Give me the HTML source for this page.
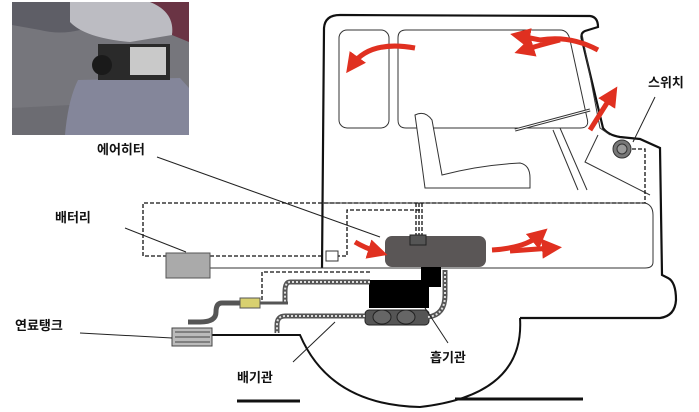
<!DOCTYPE html>
<html><head><meta charset="utf-8"><style>
html,body{margin:0;padding:0;background:#fff;}
svg{display:block;}
text{font-family:"Liberation Sans","Noto Sans CJK KR",sans-serif;font-size:13px;font-weight:bold;fill:#111;}
</style></head><body>
<svg width="699" height="412" viewBox="0 0 699 412" xmlns="http://www.w3.org/2000/svg">
<defs>
<marker id="ah" markerWidth="4" markerHeight="4" refX="2" refY="2" orient="auto" markerUnits="strokeWidth"><path d="M0,0 L4,2 L0,4 Z" fill="#e03020"/></marker>
</defs>
<!-- photo -->
<rect x="12" y="2" width="177" height="133" fill="#76767c"/>
<path d="M12,2 L80,2 L80,30 Q60,35 40,30 L12,25Z" fill="#5e5e66"/>
<path d="M70,2 L150,2 Q178,10 172,35 L130,42 Q85,38 70,22 Z" fill="#bcbcc2"/>
<path d="M150,2 L189,2 L189,42 L172,35 Q175,12 150,2Z" fill="#6a3444"/>
<path d="M12,108 L70,105 L65,135 L12,135Z" fill="#6c6c72"/>
<path d="M78,80 L180,78 L189,88 L189,135 L65,135 Q68,100 78,80Z" fill="#84869a"/>
<rect x="98" y="44" width="72" height="36" fill="#2a2a2a"/>
<rect x="130" y="47" width="36" height="28" fill="#c9c9c9"/>
<circle cx="102" cy="65" r="10" fill="#1a1a1a"/>
<text x="97" y="154">에어히터</text>
<line x1="157" y1="157" x2="380" y2="237" stroke="#222" stroke-width="1"/>
<!-- cab outline -->
<path d="M322,268 L324,28 Q325,15 340,15 L590,16 Q598,17 598,27 L585,31 Q580,33 582,40 L603,128 Q608,135 620,137 L640,139 L660,148 L662,275 L668,278 Q676,282 676,300 Q675,316 660,318 L520,318" fill="none" stroke="#111" stroke-width="2.2"/>
<path d="M520,318 Q525,395 420,407 Q330,405 300,335 L180,335" fill="none" stroke="#111" stroke-width="2"/>
<line x1="237" y1="401" x2="300" y2="401" stroke="#111" stroke-width="3"/>
<line x1="455" y1="399" x2="583" y2="399" stroke="#111" stroke-width="3"/>
<!-- windows -->
<rect x="339" y="30" width="50" height="98" rx="8" fill="none" stroke="#333" stroke-width="1"/>
<path d="M406,30 L560,30 Q568,30 570,40 L587,118 Q590,128 580,128 L406,128 Q398,128 398,120 L398,38 Q398,30 406,30Z" fill="none" stroke="#333" stroke-width="1"/>
<path d="M582,34 L600,128 L610,135" fill="none" stroke="#333" stroke-width="1"/>
<!-- seat -->
<path d="M415,115 Q425,110 432,120 L442,175 Q480,165 520,163 Q530,165 530,178 L530,188 L425,188 Q420,150 415,115Z" fill="#fff" stroke="#333" stroke-width="1"/>
<!-- steering -->
<line x1="515" y1="130" x2="590" y2="110" stroke="#333" stroke-width="3"/>
<line x1="515" y1="130" x2="590" y2="110" stroke="#fff" stroke-width="1"/>
<path d="M553,130 L578,190 M560,128 L587,190" stroke="#333" stroke-width="1"/>
<!-- dash panel -->
<path d="M598,135 L585,162 L650,195" fill="none" stroke="#333" stroke-width="1"/>
<!-- interior lower box -->
<path d="M322,203 L645,203 Q653,205 653,215 L653,262 Q653,268 645,268 L210,268" fill="none" stroke="#333" stroke-width="1"/>
<!-- switch -->
<circle cx="622" cy="149" r="9" fill="#777" stroke="#333"/>
<circle cx="622" cy="149" r="5" fill="#999" stroke="#333"/>
<text x="648" y="87">스위치</text>
<line x1="655" y1="97" x2="633" y2="142" stroke="#222"/>
<!-- dashed wires -->
<g fill="none" stroke="#111" stroke-width="1.3" stroke-dasharray="4,2">
<path d="M632,149 L645,149 L645,203 L143,203 L143,256 L167,256"/>
<path d="M210,256 L322,256"/>
<path d="M416,203 L416,237 M419,203 L419,237 M422,203 L422,237"/>
<path d="M420,210 L347,210 L347,256 L338,256"/>
<path d="M370,272 L262,272 L262,302"/>
</g>
<rect x="326" y="251" width="12" height="10" fill="#fff" stroke="#333"/>
<!-- battery -->
<rect x="166" y="253" width="44" height="25" fill="#aaa" stroke="#555"/>
<text x="55" y="222">배터리</text>
<line x1="125" y1="228" x2="186" y2="252" stroke="#222"/>
<!-- heater -->
<rect x="385" y="236" width="101" height="31" rx="7" fill="#5a5656"/>
<rect x="410" y="235" width="16" height="10" fill="#555" stroke="#222"/>
<rect x="421" y="267" width="20" height="20" fill="#000"/>
<rect x="369" y="280" width="60" height="28" fill="#000"/>
<rect x="365" y="310" width="64" height="15" rx="4" fill="#555" stroke="#222"/>
<ellipse cx="382" cy="317" rx="9" ry="7" fill="#666" stroke="#222"/>
<ellipse cx="406" cy="317" rx="9" ry="7" fill="#666" stroke="#222"/>
<!-- pipes -->
<g fill="none" stroke="#555" stroke-width="5">
<path d="M365,316 L285,316 Q277,316 277,325 L277,333"/>
<path d="M428,317 Q445,315 445,295 L445,270"/>
<path d="M370,282 L290,282 Q285,282 285,292 L285,303"/>
<path d="M240,303 L222,303 Q216,303 216,312 Q216,322 200,322 L188,322"/>
</g>
<g fill="none" stroke="#ddd" stroke-width="2" stroke-dasharray="2,2">
<path d="M365,316 L285,316 Q277,316 277,325 L277,333"/>
<path d="M428,317 Q445,315 445,295 L445,270"/>
<path d="M370,282 L290,282 Q285,282 285,292 L285,303"/>
</g>
<rect x="240" y="298" width="20" height="10" fill="#d8d070" stroke="#555"/>
<line x1="260" y1="303" x2="288" y2="303" stroke="#555" stroke-width="3"/>
<!-- fuel tank -->
<rect x="172" y="328" width="40" height="18" fill="#bbb" stroke="#444"/>
<g stroke="#444"><line x1="175" y1="332" x2="210" y2="332"/><line x1="175" y1="337" x2="210" y2="337"/><line x1="175" y1="342" x2="210" y2="342"/></g>
<text x="15" y="330">연료탱크</text>
<line x1="80" y1="333" x2="172" y2="338" stroke="#222"/>
<text x="237" y="382">배기관</text>
<line x1="293" y1="362" x2="335" y2="322" stroke="#222"/>
<text x="430" y="362">흡기관</text>
<line x1="448" y1="343" x2="425" y2="308" stroke="#222"/>
<!-- red arrows -->
<g fill="none" stroke="#e03020" stroke-width="5" marker-end="url(#ah)">
<path d="M415,48 Q370,40 352,65"/>
<path d="M598,50 Q570,35 540,40 L520,36"/>
<path d="M560,40 Q540,45 524,50"/>
<path d="M590,130 L612,95"/>
<path d="M355,242 Q365,248 378,252"/>
<path d="M492,250 Q525,248 540,235"/>
<path d="M510,251 L552,248"/>
</g>
</svg>
</body></html>
